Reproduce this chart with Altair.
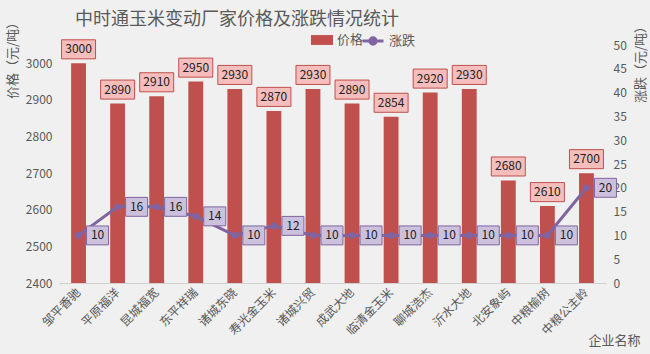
import altair as alt
import pandas as pd

companies = ["邹平香驰", "平原福洋", "昆城福宽", "东平祥瑞", "诸城东晓", "寿光金玉米", "诸城兴贸",
             "成武大地", "临清金玉米", "聊城浩杰", "沂水大地", "北安象屿", "中粮榆树", "中粮公主岭"]
prices = [3000, 2890, 2910, 2950, 2930, 2870, 2930, 2890, 2854, 2920, 2930, 2680, 2610, 2700]
changes = [10, 16, 16, 14, 10, 12, 10, 10, 10, 10, 10, 10, 10, 20]

FONT = "Noto Sans CJK SC"
GREY = "#595959"
RED = "#c0504d"
PURPLE = "#8064a2"

df = pd.DataFrame({"company": companies, "price": prices, "change": changes})
df["s1"] = "价格"
df["s2"] = "涨跌"

x = alt.X("company:N", sort=companies,
          scale=alt.Scale(paddingInner=0.62, paddingOuter=0.31),
          axis=alt.Axis(title="企业名称", labelAngle=315, labelAlign="right", labelBaseline="middle",
                        labelFontSize=12, labelPadding=7,
                        domain=True, domainColor="#d0d0d0", ticks=False,
                        titleX=581, titleY=57, titleAlign="right", titleBaseline="middle",
                        titleFontSize=13, titleFontWeight="normal"))

y_left = alt.Y("price:Q",
               scale=alt.Scale(domain=[2400, 3050], nice=False, zero=False),
               axis=alt.Axis(values=list(range(2400, 3001, 100)), format="d", title="价格（元/吨）",
                             titleX=-47, titleY=12, titleAngle=270, titleAlign="center",
                             titleBaseline="middle", titleFontSize=13, titleFontWeight="normal",
                             labelFontSize=12, labelPadding=7, domain=False, ticks=False))

y_right = alt.Y("change:Q",
                scale=alt.Scale(domain=[0, 50], nice=False),
                axis=alt.Axis(orient="right", values=list(range(0, 51, 5)), format="d",
                              title="涨跌（元/吨）",
                              titleX=34, titleY=16, titleAngle=270, titleAlign="center",
                              titleBaseline="middle", titleFontSize=13, titleFontWeight="normal",
                              labelFontSize=12, labelPadding=7, domain=False, ticks=False))

base = alt.Chart(df)

bars = base.mark_bar().encode(
    x=x, y=y_left, y2=alt.datum(2400),
    fill=alt.Fill("s1:N", scale=alt.Scale(domain=["价格"], range=[RED]),
                  legend=alt.Legend(title=None, orient="none", legendX=252, legendY=-16,
                                    symbolType="M-1,-0.45H1V0.45H-1Z", symbolSize=484,
                                    symbolStrokeWidth=0, labelFont=FONT, labelFontSize=13,
                                    labelColor=GREY)),
)
price_box = base.mark_point(shape="M-1,-0.56H1V0.56H-1Z", size=1156, filled=True,
                            fill="#f5bdbb", stroke=RED, strokeWidth=1, opacity=1,
                            yOffset=-14).encode(x=x, y=y_left)
price_txt = base.mark_text(font=FONT, fontSize=12, color="#222222", baseline="middle",
                           yOffset=-14).encode(x=x, y=y_left, text="price:Q")

left = alt.layer(bars, price_box, price_txt)

line = base.mark_line(strokeWidth=3).encode(
    x=x, y=y_right,
    stroke=alt.Stroke("s2:N", scale=alt.Scale(domain=["涨跌"], range=[PURPLE]),
                      legend=alt.Legend(title=None, orient="none", legendX=302, legendY=-16,
                                        symbolType="M-1,0H1M0.3,0A0.3,0.3,0,1,1,-0.3,0A0.3,0.3,0,1,1,0.3,0Z",
                                        symbolSize=441, symbolStrokeWidth=3,
                                        symbolFillColor=PURPLE, labelFont=FONT,
                                        labelFontSize=13, labelColor=GREY)),
)
pts = base.mark_point(shape="circle", size=45, filled=True, color=PURPLE, opacity=1).encode(
    x=x, y=y_right)
chg_box = base.mark_point(shape="M-1,-0.86H1V0.86H-1Z", size=484, filled=True,
                          fill="#ccc1dc", stroke=PURPLE, strokeWidth=1, opacity=1,
                          xOffset=19).encode(x=x, y=y_right)
chg_txt = base.mark_text(font=FONT, fontSize=12, color="#222222", baseline="middle",
                         xOffset=19).encode(x=x, y=y_right, text="change:Q")

right = alt.layer(line, pts, chg_box, chg_txt)

chart = alt.layer(left, right).resolve_scale(y="independent").properties(
    width=547, height=238,
    autosize=alt.AutoSizeParams(type="none"),
    padding={"left": 59, "top": 45, "right": 44, "bottom": 71},
    background="#f0f0f0",
    title=alt.TitleParams("中时通玉米变动厂家价格及涨跌情况统计", anchor="start", frame="group",
                          dx=16, offset=-14, fontSize=18, font=FONT, color=GREY,
                          fontWeight="normal"),
).configure_view(stroke=None).configure_axis(
    labelFont=FONT, titleFont=FONT, labelColor=GREY, titleColor=GREY, grid=False
)

chart.save("out.html", embed_options={"renderer": "svg", "actions": False})
